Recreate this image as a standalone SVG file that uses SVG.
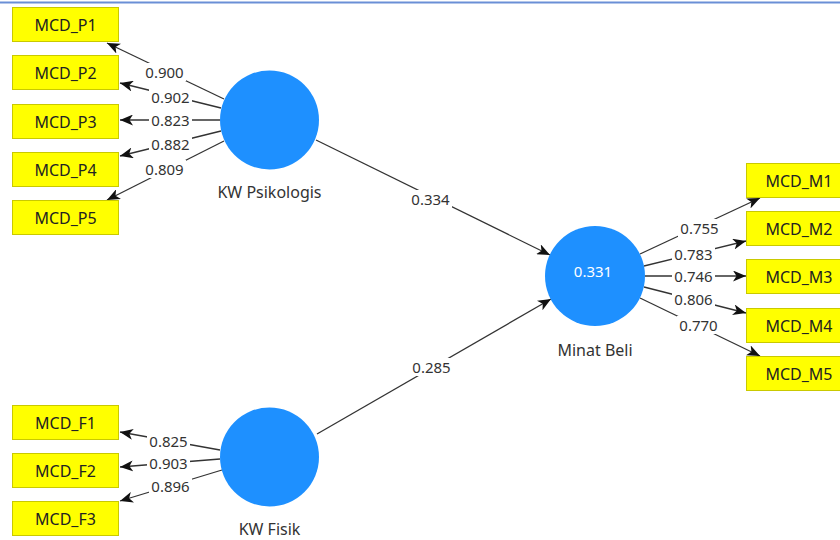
<svg xmlns="http://www.w3.org/2000/svg" width="840" height="540" viewBox="0 0 840 540">
<defs>
<style>
.box{fill:#ffff00;stroke:#c9c900;stroke-width:1}
.bt{font-family:"Noto Sans","Open Sans",sans-serif;font-size:16px;fill:#222;text-anchor:middle;dominant-baseline:central}
.lv{fill:#1e90ff}
.lt{font-family:"Noto Sans","Open Sans",sans-serif;font-size:16px;fill:#333;text-anchor:middle}
.ed{stroke:#333;stroke-width:1.3;fill:none;marker-end:url(#ah)}
.el{font-family:"Noto Sans","Open Sans",sans-serif;font-size:15px;fill:#333;text-anchor:middle;dominant-baseline:central}
.bg{fill:#fff}
</style>
<marker id="ah" viewBox="0 0 13 11" refX="13" refY="5.5" markerWidth="13" markerHeight="11" markerUnits="userSpaceOnUse" orient="auto">
<path d="M0,0 L13,5.5 L0,11 L3.5,5.5 Z" fill="#111"/>
</marker>
</defs>
<rect width="840" height="540" fill="#fff"/>
<line x1="0" y1="2.5" x2="840" y2="2.5" stroke="#6a8fd6" stroke-width="2"/>

<g id="connectors">
<line class="ed" x1="224" y1="99" x2="107" y2="43"/>
<line class="ed" x1="221" y1="108" x2="120" y2="83"/>
<line class="ed" x1="220" y1="120" x2="120" y2="120"/>
<line class="ed" x1="221" y1="131" x2="120" y2="156"/>
<line class="ed" x1="224" y1="141" x2="107" y2="200"/>
<line class="ed" x1="220" y1="450" x2="120" y2="432"/>
<line class="ed" x1="220" y1="459" x2="120" y2="467"/>
<line class="ed" x1="222" y1="470" x2="120" y2="501"/>
<line class="ed" x1="316" y1="140" x2="550" y2="255"/>
<line class="ed" x1="317" y1="434" x2="551" y2="299"/>
<line class="ed" x1="640" y1="254" x2="760" y2="198"/>
<line class="ed" x1="644" y1="266" x2="746" y2="241"/>
<line class="ed" x1="645" y1="276" x2="746" y2="276"/>
<line class="ed" x1="644" y1="287" x2="746" y2="313"/>
<line class="ed" x1="640" y1="298" x2="760" y2="356"/>
<g>
<rect class="bg" x="143" y="63" width="43" height="18"/><text class="el" x="164.5" y="72">0.900</text>
<rect class="bg" x="149" y="88" width="43" height="18"/><text class="el" x="170.5" y="97">0.902</text>
<rect class="bg" x="149" y="111" width="43" height="18"/><text class="el" x="170.5" y="120">0.823</text>
<rect class="bg" x="149" y="135" width="43" height="18"/><text class="el" x="170.5" y="144">0.882</text>
<rect class="bg" x="143" y="160" width="43" height="18"/><text class="el" x="164.5" y="169">0.809</text>
<rect class="bg" x="147" y="432" width="43" height="18"/><text class="el" x="168.5" y="441">0.825</text>
<rect class="bg" x="147" y="454" width="43" height="18"/><text class="el" x="168.5" y="463">0.903</text>
<rect class="bg" x="149" y="477" width="43" height="18"/><text class="el" x="170.5" y="486">0.896</text>
<rect class="bg" x="409" y="190" width="43" height="18"/><text class="el" x="430.5" y="199">0.334</text>
<rect class="bg" x="410" y="358" width="43" height="18"/><text class="el" x="431.5" y="367">0.285</text>
<rect class="bg" x="678" y="219" width="43" height="18"/><text class="el" x="699.5" y="228">0.755</text>
<rect class="bg" x="672" y="245" width="43" height="18"/><text class="el" x="693.5" y="254">0.783</text>
<rect class="bg" x="672" y="267" width="43" height="18"/><text class="el" x="693.5" y="276">0.746</text>
<rect class="bg" x="672" y="290" width="43" height="18"/><text class="el" x="693.5" y="299">0.806</text>
<rect class="bg" x="677" y="316" width="43" height="18"/><text class="el" x="698.5" y="325">0.770</text>
</g>
</g>

<g id="MCD_P1"><rect class="box" x="12.5" y="7.5" width="106" height="34"/><text class="bt" x="65.5" y="24.5">MCD_P1</text></g>
<g id="MCD_P2"><rect class="box" x="12.5" y="55.5" width="106" height="34"/><text class="bt" x="65.5" y="72.5">MCD_P2</text></g>
<g id="MCD_P3"><rect class="box" x="12.5" y="104.5" width="106" height="34"/><text class="bt" x="65.5" y="121.5">MCD_P3</text></g>
<g id="MCD_P4"><rect class="box" x="12.5" y="152.5" width="106" height="34"/><text class="bt" x="65.5" y="169.5">MCD_P4</text></g>
<g id="MCD_P5"><rect class="box" x="12.5" y="200.5" width="106" height="34"/><text class="bt" x="65.5" y="217.5">MCD_P5</text></g>

<g id="MCD_F1"><rect class="box" x="12.5" y="405.5" width="106" height="34"/><text class="bt" x="65.5" y="422.5">MCD_F1</text></g>
<g id="MCD_F2"><rect class="box" x="12.5" y="453.5" width="106" height="34"/><text class="bt" x="65.5" y="470.5">MCD_F2</text></g>
<g id="MCD_F3"><rect class="box" x="12.5" y="501.5" width="106" height="34"/><text class="bt" x="65.5" y="518.5">MCD_F3</text></g>

<g id="MCD_M1"><rect class="box" x="746.5" y="163.5" width="106" height="34"/><text class="bt" x="799" y="180.5">MCD_M1</text></g>
<g id="MCD_M2"><rect class="box" x="746.5" y="211.5" width="106" height="34"/><text class="bt" x="799" y="228.5">MCD_M2</text></g>
<g id="MCD_M3"><rect class="box" x="746.5" y="259.5" width="106" height="34"/><text class="bt" x="799" y="276.5">MCD_M3</text></g>
<g id="MCD_M4"><rect class="box" x="746.5" y="308.5" width="106" height="34"/><text class="bt" x="799" y="325.5">MCD_M4</text></g>
<g id="MCD_M5"><rect class="box" x="746.5" y="356.5" width="106" height="34"/><text class="bt" x="799" y="373.5">MCD_M5</text></g>

<g id="KW_Psikologis"><circle class="lv" cx="269.5" cy="120" r="49.5"/><text class="lt" x="269.5" y="198">KW Psikologis</text></g>
<g id="KW_Fisik"><circle class="lv" cx="269.5" cy="457" r="49.5"/><text class="lt" x="269.5" y="535">KW Fisik</text></g>
<g id="Minat_Beli"><circle class="lv" cx="595" cy="276" r="50"/><text x="593" y="271" style="font-family:'Noto Sans','Open Sans',sans-serif;font-size:15px;fill:#fff;text-anchor:middle;dominant-baseline:central">0.331</text><text class="lt" x="595" y="356">Minat Beli</text></g>
</svg>
